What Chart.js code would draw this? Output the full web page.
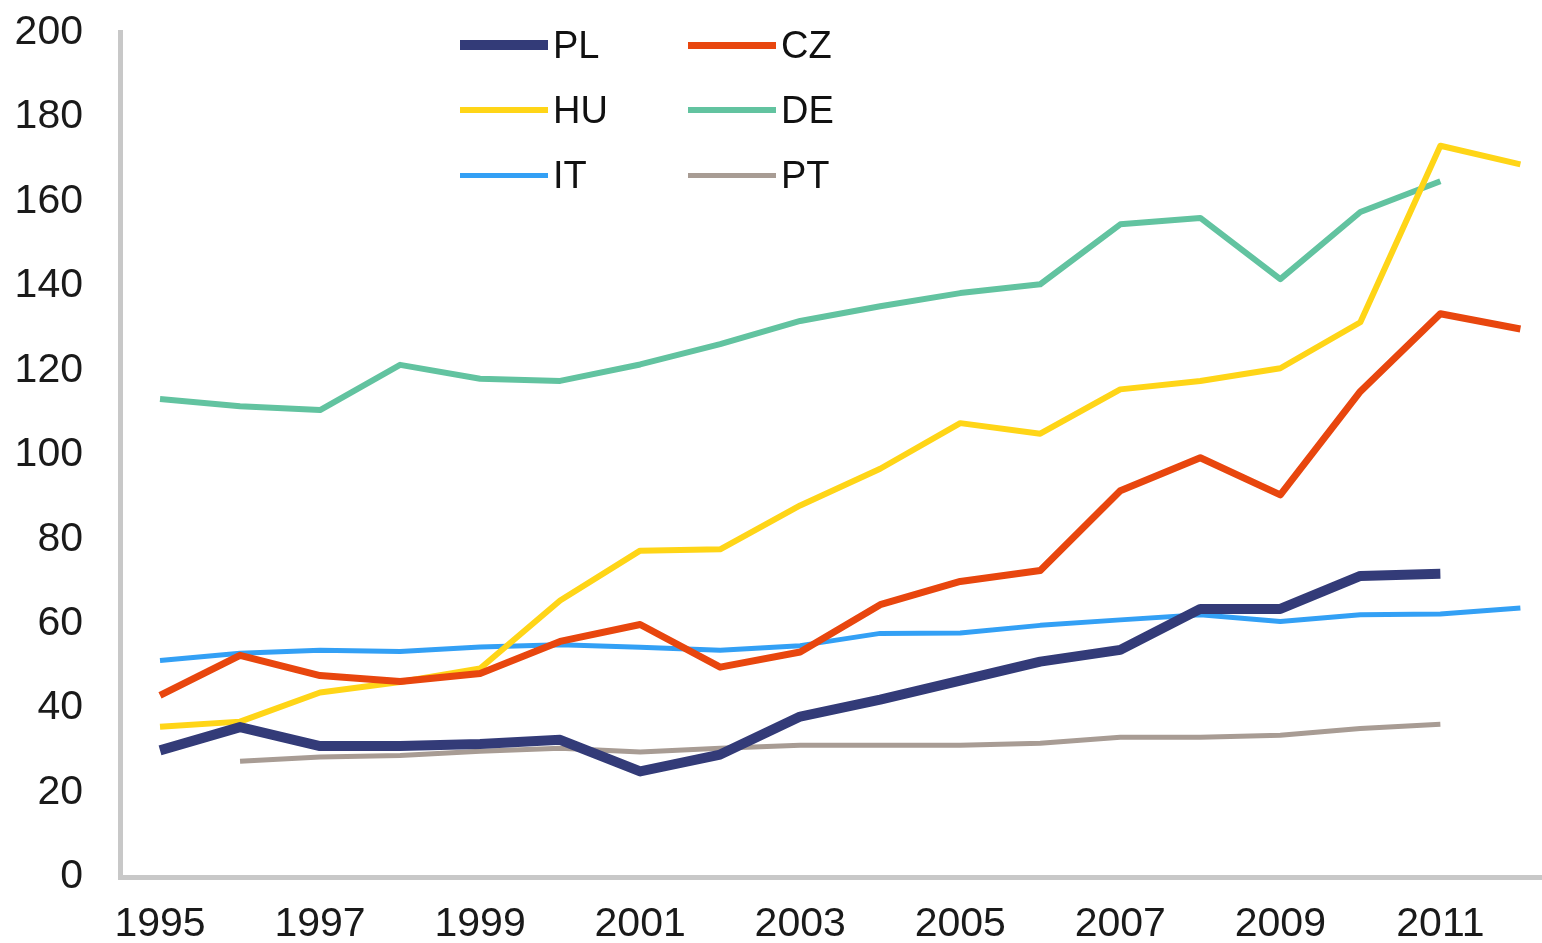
<!DOCTYPE html>
<html>
<head>
<meta charset="utf-8">
<script src="https://cdn.jsdelivr.net/npm/chart.js@4.4.1/dist/chart.umd.min.js"></script>
<style>
  html, body { margin: 0; padding: 0; background: #fff; }
  #wrap { position: relative; width: 1542px; height: 943px; overflow: hidden; }
  #chart { position: absolute; left: 0; top: -29px; }
  #legend { position: absolute; left: 460px; top: 20px; display: grid;
    grid-template-columns: 228px 228px; grid-auto-rows: 65px;
    font-family: "Liberation Sans", Arial, sans-serif; font-size: 38px; color: #111; }
  .item { display: flex; align-items: center; height: 50px; }
  .swatch { width: 88px; margin-right: 5px; }
</style>
</head>
<body>
<div id="wrap">
  <canvas id="chart" width="1542" height="972"></canvas>
  <div id="legend"></div>
</div>
<script>
// datos
const years = [1995,1996,1997,1998,1999,2000,2001,2002,2003,2004,2005,2006,2007,2008,2009,2010,2011,2012];
const xTicks = [1995,1997,1999,2001,2003,2005,2007,2009,2011];

const PL = [30,35.5,31,31,31.5,32.5,25,29,38,42,46.5,51,53.8,63.5,63.5,71.3,71.8,null];
const CZ = [43,52.5,47.7,46.3,48.2,55.8,59.8,49.7,53.3,64.5,70,72.6,91.5,99.3,90.5,115,133.4,129.8];
const HU = [35.6,36.8,43.7,46.2,49.4,65.5,77.3,77.6,88,96.7,107.5,105,115.5,117.5,120.5,131.4,173.2,168.8];
const DE = [113.2,111.5,110.6,121.3,118,117.5,121.4,126.2,131.7,135.2,138.3,140.4,154.6,156.1,141.6,157.5,164.8,null];
const IT = [51.3,53,53.7,53.4,54.5,55,54.4,53.7,54.8,57.7,57.8,59.6,60.9,62.1,60.5,62.1,62.3,63.7];
const PT = [null,27.4,28.4,28.8,29.8,30.5,29.6,30.5,31.2,31.2,31.2,31.7,33.1,33.1,33.6,35.2,36.2,null];

const seriesNames = ['PL','CZ','HU','DE','IT','PT'];
const seriesData = [PL, CZ, HU, DE, IT, PT];
const seriesColors = ['#333b78','#e8460e','#ffd517','#62c3a0','#33a0f5','#a89c94'];
const seriesWidths = [10,7,6,6,5,5];

const FONT = '"Liberation Sans", Arial, sans-serif';

const datasets = seriesNames.map((name, i) => ({
  label: name,
  data: years.map((yr, j) => ({ x: yr, y: seriesData[i][j] })),
  borderColor: seriesColors[i],
  backgroundColor: seriesColors[i],
  borderWidth: seriesWidths[i],
  pointRadius: 0,
  tension: 0,
  spanGaps: false,
  borderJoinStyle: 'round'
}));

const chart = new Chart(document.getElementById('chart').getContext('2d'), {
  type: 'line',
  data: { datasets },
  options: {
    responsive: false,
    devicePixelRatio: 1,
    animation: false,
    layout: { padding: { top: 2, right: 0, bottom: 0, left: 0 } },
    plugins: { legend: { display: false }, tooltip: { enabled: false } },
    scales: {
      x: {
        type: 'linear',
        min: 1994.5,
        max: 2012.27,
        afterBuildTicks: s => { s.ticks = xTicks.map(v => ({ value: v })); },
        afterFit: s => { s.height = 66; },
        grid: { display: false, drawTicks: false },
        border: { display: true, color: '#c8c8c8', width: 5 },
        ticks: { padding: 23, color: '#1a1a1a', font: { family: FONT, size: 41 }, maxRotation: 0, autoSkip: false,
          callback: v => String(v) }
      },
      y: {
        min: 0,
        max: 200,
        afterFit: s => { s.width = 120; },
        grid: { display: false, drawTicks: false },
        border: { display: true, color: '#c8c8c8', width: 5 },
        ticks: { stepSize: 20, padding: 37, color: '#1a1a1a', font: { family: FONT, size: 41 } }
      }
    }
  }
});

// leyenda en HTML, dos columnas
const legendEl = document.getElementById('legend');
chart.data.datasets.forEach(ds => {
  const div = document.createElement('div');
  div.className = 'item';
  const sw = document.createElement('span');
  sw.className = 'swatch';
  sw.style.height = ds.borderWidth + 'px';
  sw.style.background = ds.borderColor;
  const txt = document.createElement('span');
  txt.textContent = ds.label;
  div.appendChild(sw);
  div.appendChild(txt);
  legendEl.appendChild(div);
});
</script>
</body>
</html>
